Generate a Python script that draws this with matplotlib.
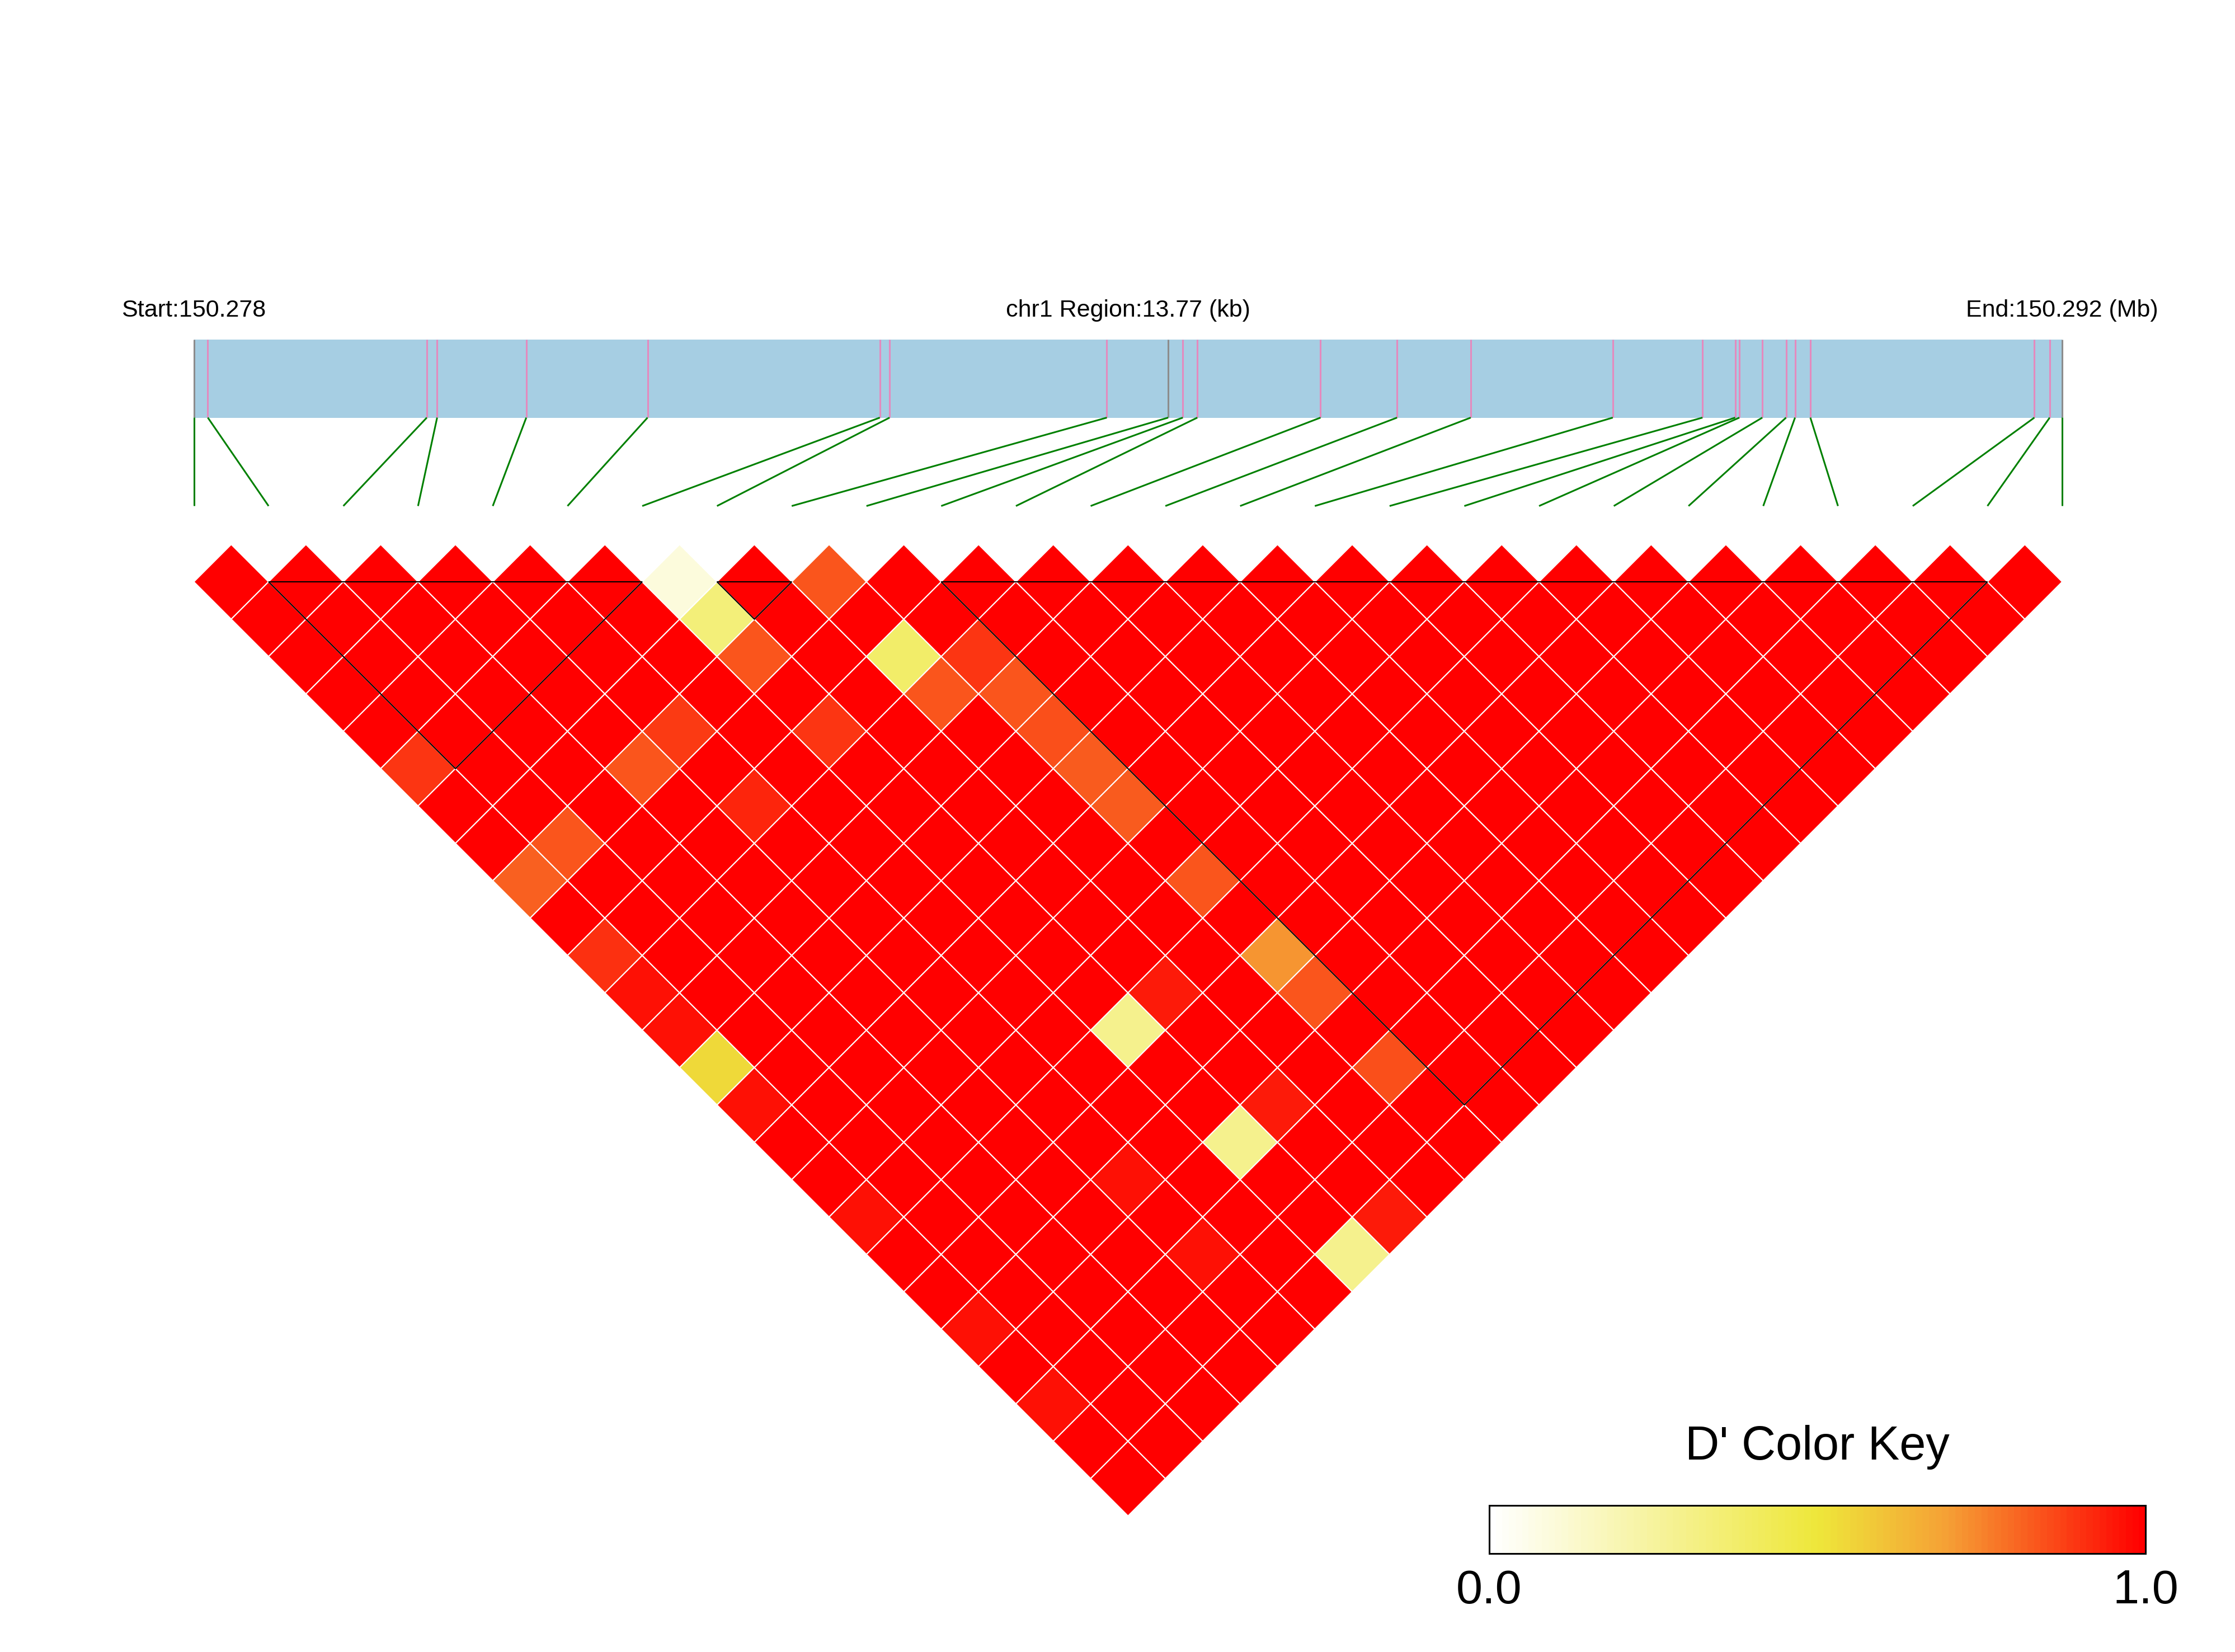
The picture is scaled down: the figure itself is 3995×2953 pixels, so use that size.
import numpy as np
import matplotlib
matplotlib.use("Agg")
import matplotlib.pyplot as plt
from matplotlib.collections import PolyCollection, LineCollection
from matplotlib.colors import LinearSegmentedColormap
from matplotlib.patches import Rectangle, Polygon

plt.rcParams['font.family'] = ['Liberation Sans', 'DejaVu Sans']

# ---------------- data ----------------
chrom = "chr1"
region_start = 150278150
region_end = 150291920
snp_pos = [150278150, 150278253, 150279867, 150279943, 150280600, 150281494,
           150283206, 150283278, 150284879, 150285331, 150285439, 150285546,
           150286454, 150287018, 150287561, 150288608, 150289269, 150289510,
           150289541, 150289710, 150289885, 150289951, 150290064, 150291715,
           150291828, 150291920]
special_snps = [0, 9, 25]          # lines drawn grey in the track

# D' upper triangle: row i holds D'(i, j) for j = i+1 .. 25
dprime_rows = [
    [1, 1, 1, 1, 1, 0.90, 1, 1, 0.82, 1, 0.91, 0.97, 0.97, 0.54, 0.97, 1, 1, 0.97, 1, 1, 0.97, 1, 0.97, 1, 1],
    [1, 1, 1, 1, 1, 1, 1, 0.84, 1, 1, 1, 1, 1, 1, 1, 1, 1, 1, 1, 1, 1, 1, 1, 1],
    [1, 1, 1, 1, 1, 1, 1, 1, 1, 1, 1, 1, 1, 1, 1, 1, 1, 1, 1, 1, 1, 1, 1],
    [1, 1, 1, 1, 1, 0.84, 1, 1, 1, 1, 1, 1, 1, 1, 1, 1, 1, 1, 1, 1, 1, 1],
    [1, 1, 1, 1, 0.89, 1, 0.93, 1, 1, 1, 1, 1, 1, 1, 1, 1, 0.97, 1, 0.97, 1, 1],
    [1, 1, 1, 1, 1, 1, 1, 1, 1, 1, 1, 1, 1, 1, 1, 1, 1, 1, 1, 1],
    [0.09, 0.34, 0.84, 1, 0.90, 1, 1, 1, 1, 1, 1, 1, 0.29, 1, 1, 0.29, 1, 1, 0.29],
    [1, 1, 1, 1, 1, 1, 1, 1, 1, 1, 1, 0.95, 1, 1, 0.95, 1, 1, 0.95],
    [0.84, 1, 0.38, 0.84, 1, 1, 1, 1, 1, 1, 1, 1, 1, 1, 1, 1, 1],
    [1, 1, 0.90, 0.84, 0.85, 0.83, 0.83, 1, 0.84, 1, 0.72, 0.84, 1, 0.85, 1, 1],
    [1, 1, 1, 1, 1, 1, 1, 1, 1, 1, 1, 1, 1, 1, 1],
    [1, 1, 1, 1, 1, 1, 1, 1, 1, 1, 1, 1, 1, 1],
    [1, 1, 1, 1, 1, 1, 1, 1, 1, 1, 1, 1, 1],
    [1, 1, 1, 1, 1, 1, 1, 1, 1, 1, 1, 1],
    [1, 1, 1, 1, 1, 1, 1, 1, 1, 1, 1],
    [1, 1, 1, 1, 1, 1, 1, 1, 1, 1],
    [1, 1, 1, 1, 1, 1, 1, 1, 1],
    [1, 1, 1, 1, 1, 1, 1, 1],
    [1, 1, 1, 1, 1, 1, 1],
    [1, 1, 1, 1, 1, 1],
    [1, 1, 1, 1, 1],
    [1, 1, 1, 1],
    [1, 1, 1],
    [1, 1],
    [1],
]
blocks = [(1, 6), (7, 8), (10, 24)]
colorkey_title = "D' Color Key"
colorkey_ticks = ["0.0", "1.0"]

# ---------------- layout (units = SNP spacing) ----------------
W_PX, H_PX = 3995, 2953
LEFT_PX, RIGHT_PX, TOP_ROW_PX = 346.5, 3686.1, 1040.0
n = len(snp_pos)
unit = (RIGHT_PX - LEFT_PX) / (n - 1)

BAR_TOP, BAR_BOT = (TOP_ROW_PX - 607) / unit, (TOP_ROW_PX - 746.5) / unit
LINK_BOT = (TOP_ROW_PX - 904.5) / unit
TEXT_Y = (TOP_ROW_PX - 566) / unit
CB_X0, CB_X1 = (2662 - LEFT_PX) / unit, (3835 - LEFT_PX) / unit
CB_Y0, CB_Y1 = (TOP_ROW_PX - 2777) / unit, (TOP_ROW_PX - 2691) / unit
CB_TITLE_Y = (TOP_ROW_PX - 2609) / unit
CB_LABEL_Y = (TOP_ROW_PX - 2866) / unit

cmap = LinearSegmentedColormap.from_list(
    "ld", [(0.0, "#FFFFFF"), (0.5, "#EEE73A"), (0.7, "#F5A035"), (1.0, "#FF0000")], N=512)

fig = plt.figure(figsize=(W_PX / 100, H_PX / 100), dpi=100)
ax = fig.add_axes([0, 0, 1, 1])
ax.set_xlim(-LEFT_PX / unit, (W_PX - LEFT_PX) / unit)
ax.set_ylim((TOP_ROW_PX - H_PX) / unit, TOP_ROW_PX / unit)
ax.axis("off")

# ---------------- LD heatmap ----------------
polys, vals = [], []
for i, row in enumerate(dprime_rows):
    for k, v in enumerate(row):
        j = i + 1 + k
        cx = (i + j) / 2.0
        cy = -(j - i - 1) / 2.0
        polys.append([(cx - 0.5, cy), (cx, cy + 0.5), (cx + 0.5, cy), (cx, cy - 0.5)])
        vals.append(v)
pc = PolyCollection(polys, array=np.array(vals), cmap=cmap, edgecolors="white",
                    linewidths=1.5, zorder=2)
pc.set_clim(0, 1)
ax.add_collection(pc)

for a, b in blocks:
    tri = Polygon([(a, 0), (b, 0), ((a + b) / 2.0, -(b - a) / 2.0)], closed=True,
                  fill=False, edgecolor="black", linewidth=1.5, zorder=3)
    ax.add_patch(tri)

# ---------------- physical track ----------------
span = region_end - region_start
bx = [(p - region_start) / span * (n - 1) for p in snp_pos]
ax.add_patch(Rectangle((0, BAR_BOT), n - 1, BAR_TOP - BAR_BOT, facecolor="#A6CEE3",
                       edgecolor="none", zorder=1))
for k, x in enumerate(bx):
    col = "#8C8C8C" if k in special_snps else "#E48ABE"
    ax.plot([x, x], [BAR_BOT, BAR_TOP], color=col, lw=2.2, zorder=2,
            solid_capstyle="butt")
links = [[(x, BAR_BOT), (k, LINK_BOT)] for k, x in enumerate(bx)]
ax.add_collection(LineCollection(links, colors="#008000", linewidths=2.2, zorder=2))

ax.text(0, TEXT_Y, f"Start:{region_start / 1e6:.3f}", ha="center", va="baseline", fontsize=31)
ax.text((n - 1) / 2.0, TEXT_Y, f"{chrom} Region:{span / 1e3:.2f} (kb)", ha="center",
        va="baseline", fontsize=31)
ax.text(n - 1, TEXT_Y, f"End:{region_end / 1e6:.3f} (Mb)", ha="center", va="baseline", fontsize=31)

# ---------------- colour key ----------------
steps = np.linspace(0, 1, 100)
ax.pcolormesh(np.linspace(CB_X0, CB_X1, len(steps) + 1), [CB_Y0, CB_Y1], steps[None, :],
              cmap=cmap, vmin=0, vmax=1, shading="flat", zorder=2)
ax.add_patch(Rectangle((CB_X0, CB_Y0), CB_X1 - CB_X0, CB_Y1 - CB_Y0, fill=False,
                       edgecolor="black", linewidth=2.2, zorder=3))
ax.text((CB_X0 + CB_X1) / 2.0, CB_TITLE_Y, colorkey_title, ha="center", va="baseline", fontsize=61)
ax.text(CB_X0, CB_LABEL_Y, colorkey_ticks[0], ha="center", va="baseline", fontsize=61)
ax.text(CB_X1, CB_LABEL_Y, colorkey_ticks[1], ha="center", va="baseline", fontsize=61)

fig.savefig("out.png", dpi=100, facecolor="white")
